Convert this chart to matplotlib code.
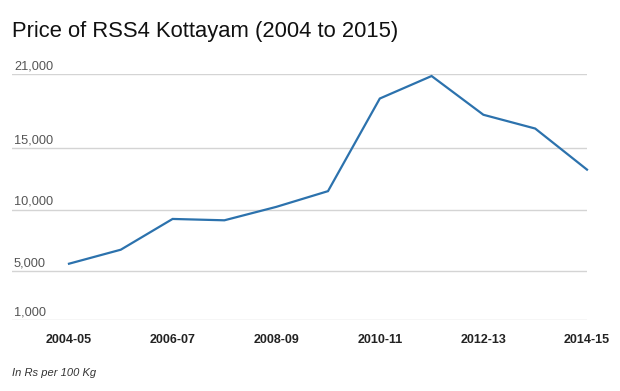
import matplotlib
matplotlib.use("Agg")
import matplotlib.pyplot as plt
import matplotlib.transforms as mtransforms

plt.rcParams["font.family"] = ["Liberation Sans", "DejaVu Sans"]

years = ["2004-05", "2005-06", "2006-07", "2007-08", "2008-09", "2009-10",
         "2010-11", "2011-12", "2012-13", "2013-14", "2014-15"]
price = [5600, 6740, 9240, 9130, 10220, 11500, 19030, 20860, 17710, 16590, 13250]
ytick_vals = [1000, 5000, 10000, 15000, 21000]


def main():
    fig = plt.figure(figsize=(6.2, 3.91), dpi=100)
    ax = fig.add_axes([12 / 620, 1 - 320.3 / 391, 575 / 620, 246 / 391])

    x = list(range(len(years)))
    ax.plot(x, price, color="#2c72ad", lw=1.6, clip_on=False,
            solid_joinstyle="miter", zorder=3)

    ax.set_xlim(-1.1, len(years) - 1)
    ax.set_ylim(1000, 21000)

    for v in ytick_vals:
        ax.axhline(v, color="#d4d4d4", lw=1, zorder=1)
    # y labels sit above their gridline, left aligned
    trans = mtransforms.blended_transform_factory(ax.transAxes, ax.transData)
    off = mtransforms.offset_copy(trans, fig=fig, x=0, y=5, units="dots")
    for v in ytick_vals:
        ax.text(2 / 575, v, f"{v:,}", transform=off, ha="left", va="baseline",
                fontsize=9.2, color="#555555")

    ax.set_yticks([])
    ax.set_xticks(x[::2])
    ax.set_xticklabels(years[::2], fontsize=9, fontweight="bold", color="#222222")
    ax.tick_params(axis="x", length=0, pad=10)
    for s in ax.spines.values():
        s.set_visible(False)

    fig.text(12 / 620, 1 - 37 / 391, "Price of RSS4 Kottayam (2004 to 2015)",
             fontsize=15.8, color="#111111", ha="left", va="baseline")
    fig.text(12 / 620, 1 - 376 / 391, "In Rs per 100 Kg", fontsize=8,
             style="italic", color="#333333", ha="left", va="baseline")

    fig.savefig("out.png", dpi=100)


if __name__ == "__main__":
    main()
